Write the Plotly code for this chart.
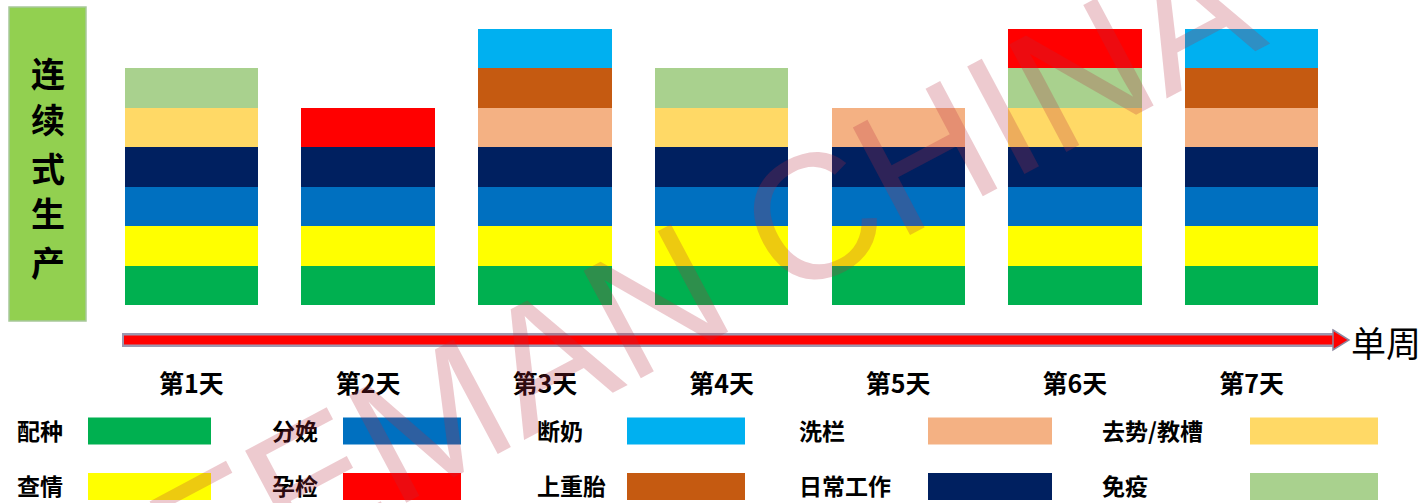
import plotly.graph_objects as go

# ---------------- data ----------------
days = ["第1天", "第2天", "第3天", "第4天", "第5天", "第6天", "第7天"]

# 1 = task scheduled on that day (stacked bottom -> top)
peizhong   = [1, 1, 1, 1, 1, 1, 1]   # 配种
qingqing   = [1, 1, 1, 1, 1, 1, 1]   # 查情
fenmian    = [1, 1, 1, 1, 1, 1, 1]   # 分娩
richang    = [1, 1, 1, 1, 1, 1, 1]   # 日常工作
xilan      = [0, 0, 1, 0, 1, 0, 1]   # 洗栏
qushi      = [1, 0, 0, 1, 0, 1, 0]   # 去势/教槽
shangzhong = [0, 0, 1, 0, 0, 0, 1]   # 上重胎
mianyi     = [1, 0, 0, 1, 0, 1, 0]   # 免疫
duannai    = [0, 0, 1, 0, 0, 0, 1]   # 断奶
yunjian    = [0, 1, 0, 0, 0, 1, 0]   # 孕检

series_names = ["配种", "查情", "分娩", "日常工作", "洗栏", "去势/教槽",
                "上重胎", "免疫", "断奶", "孕检"]
series_values = [peizhong, qingqing, fenmian, richang, xilan, qushi,
                 shangzhong, mianyi, duannai, yunjian]
series_colors = ["#00B050", "#FFFF00", "#0070C0", "#002060", "#F4B183",
                 "#FFD966", "#C55A11", "#A9D18E", "#00B0F0", "#FF0000"]

# legend layout (column-major: row1 / row2)
legend_order = ["配种", "查情", "分娩", "孕检", "断奶", "上重胎",
                "洗栏", "日常工作", "去势/教槽", "免疫"]

side_title = "连续式生产"
axis_title = "单周"
watermark = "FEMAN CHINA"

# ---------------- figure ----------------
W, H = 1421, 503
FONT = "Noto Sans CJK SC, Noto Sans, sans-serif"


def px(x):
    return x / W


def py(y):
    return 1 - y / H


fig = go.Figure()
for name, vals, col in zip(series_names, series_values, series_colors):
    fig.add_trace(go.Bar(
        x=days, y=vals, name=name,
        marker=dict(color=col, line=dict(width=0)),
        showlegend=False,
    ))

fig.update_layout(
    width=W, height=H, autosize=False,
    margin=dict(l=0, r=0, t=0, b=0),
    paper_bgcolor="white", plot_bgcolor="white",
    barmode="stack", bargap=0.245,
    font=dict(family=FONT, color="black"),
    xaxis=dict(
        domain=[px(103), px(1340)], range=[-0.5, 6.5],
        showgrid=False, zeroline=False, showline=False, ticks="",
        tickfont=dict(size=25, family=FONT, color="black", weight="bold"),
        ticklabelstandoff=62,
    ),
    yaxis=dict(
        domain=[py(305), py(29)], range=[0, 7],
        visible=False, showgrid=False, zeroline=False,
    ),
)

shapes = []
annotations = []

# green side box with vertical title (one character per line)
shapes.append(dict(type="rect", xref="paper", yref="paper",
                   x0=px(9), x1=px(86), y0=py(321), y1=py(7),
                   fillcolor="#92D050", line=dict(color="#A8C89A", width=1.5),
                   layer="below"))
char_y = [72, 118, 167, 213, 261]
for ch, yc in zip(side_title, char_y):
    annotations.append(dict(xref="paper", yref="paper", x=px(47.5), y=py(yc),
                            text=ch, showarrow=False, borderpad=0,
                            font=dict(size=34, family=FONT, color="black", weight="bold"),
                            xanchor="center", yanchor="middle"))

# arrow (timeline)
shapes.append(dict(type="line", xref="paper", yref="paper",
                   x0=px(122), x1=px(1339), y0=py(340), y1=py(340),
                   line=dict(color="#9C98B0", width=14)))
shapes.append(dict(type="line", xref="paper", yref="paper",
                   x0=px(124), x1=px(1337), y0=py(340), y1=py(340),
                   line=dict(color="#FF0000", width=9)))
shapes.append(dict(type="path", xref="paper", yref="paper",
                   path=f"M {px(1333)},{py(330)} L {px(1349)},{py(340)} L {px(1333)},{py(350)} Z",
                   fillcolor="#FF0000", line=dict(color="#8C88A0", width=1.5)))
annotations.append(dict(xref="paper", yref="paper", x=px(1349), y=py(341),
                        text=axis_title, showarrow=False,
                        font=dict(size=35, family=FONT, color="black"),
                        xanchor="left", yanchor="middle"))

# custom legend
col_text_x = [15, 270, 535, 797, 1100]
col_rect_x = [88, 343, 627, 928, 1250]
col_rect_w = [123, 118, 118, 124, 128]
row_y = [431, 486.5]
color_of = dict(zip(series_names, series_colors))
for i, name in enumerate(legend_order):
    c, r = divmod(i, 2)
    yc = row_y[r]
    shapes.append(dict(type="rect", xref="paper", yref="paper",
                       x0=px(col_rect_x[c]), x1=px(col_rect_x[c] + col_rect_w[c]),
                       y0=py(yc + 13.5), y1=py(yc - 13.5),
                       fillcolor=color_of[name], line=dict(width=0)))
    annotations.append(dict(xref="paper", yref="paper", x=px(col_text_x[c]), y=py(yc - 1.5),
                            text=name, showarrow=False,
                            font=dict(size=23, family=FONT, color="black", weight="bold"),
                            xanchor="left", yanchor="middle"))

# watermark
annotations.append(dict(xref="paper", yref="paper", x=px(703), y=py(276),
                        text=watermark, showarrow=False, textangle=-28,
                        font=dict(size=177, family="Liberation Sans, Arial, sans-serif",
                                  color="rgba(185,45,65,0.25)"),
                        xanchor="center", yanchor="middle"))

fig.update_layout(shapes=shapes, annotations=annotations)

fig.write_html("out.html")
